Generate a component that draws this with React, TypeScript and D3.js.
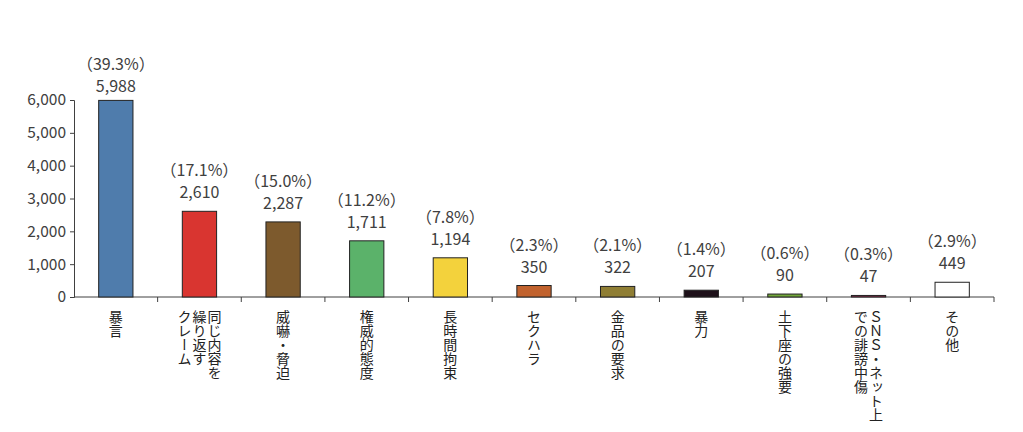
import { useEffect, useRef } from 'react';
import * as d3 from 'd3';

// each label is a list of vertical columns, first column drawn rightmost
const categories: string[][] = [
  ['暴言'],
  ['同じ内容を', '繰り返す', 'クレーム'],
  ['威嚇・脅迫'],
  ['権威的態度'],
  ['長時間拘束'],
  ['セクハラ'],
  ['金品の要求'],
  ['暴力'],
  ['土下座の強要'],
  ['ＳＮＳ・ネット上', 'での誹謗中傷'],
  ['その他'],
];
const counts = [5988, 2610, 2287, 1711, 1194, 350, 322, 207, 90, 47, 449];
const shares = ['39.3', '17.1', '15.0', '11.2', '7.8', '2.3', '2.1', '1.4', '0.6', '0.3', '2.9'];
const barColors = [
  '#4f7cac', '#d93530', '#7d5a2d', '#5bb26a', '#f3d23c', '#c1622e',
  '#8f7e34', '#1d1019', '#72a83a', '#8b2c4c', '#ffffff',
];
const yTicks = [0, 1000, 2000, 3000, 4000, 5000, 6000];

const FONT = '"Noto Sans CJK JP", "Noto Sans", sans-serif';

const App = () => {
  const chartRef = useRef<SVGSVGElement>(null);

  useEffect(() => {
    if (!chartRef.current) return;
    document.body.style.margin = '0';
    d3.select(chartRef.current).selectAll('*').remove();

    const width = 1023;
    const height = 432;
    const margin = { top: 100, right: 29, bottom: 135, left: 74 };
    const innerW = width - margin.left - margin.right;
    const innerH = height - margin.top - margin.bottom;

    const svg = d3.select(chartRef.current)
      .attr('width', width)
      .attr('height', height)
      .append('g')
      .attr('transform', `translate(${margin.left},${margin.top})`);

    const x = d3.scaleBand<number>()
      .domain(d3.range(counts.length))
      .range([0, innerW])
      .paddingInner(0)
      .paddingOuter(0);
    const y = d3.scaleLinear().domain([0, 6000]).range([innerH, 0]);

    const barW = x.bandwidth() * 0.41;

    // y axis
    const yAxis = svg.append('g')
      .call(d3.axisLeft(y).tickValues(yTicks).tickSize(4).tickPadding(4)
        .tickFormat(d => d3.format(',')(d as number)));
    yAxis.select('.domain').attr('stroke', '#404040');
    yAxis.selectAll('line').attr('stroke', '#404040');
    yAxis.selectAll('text')
      .attr('font-family', FONT)
      .attr('font-size', 15.5)
      .attr('fill', '#404040');

    // x axis baseline with ticks between categories
    const xg = svg.append('g').attr('transform', `translate(0,${innerH})`);
    xg.append('line')
      .attr('x1', 0).attr('x2', innerW)
      .attr('stroke', '#404040');
    xg.selectAll('.tk')
      .data(d3.range(1, counts.length + 1))
      .enter()
      .append('line')
      .attr('x1', d => d * x.step())
      .attr('x2', d => d * x.step())
      .attr('y1', 0)
      .attr('y2', 5)
      .attr('stroke', '#404040');

    // bars
    svg.selectAll('.bar')
      .data(counts)
      .enter()
      .append('rect')
      .attr('x', (_, i) => (x(i) || 0) + (x.bandwidth() - barW) / 2)
      .attr('y', d => y(d))
      .attr('width', barW)
      .attr('height', d => innerH - y(d))
      .attr('fill', (_, i) => barColors[i])
      .attr('stroke', '#222')
      .attr('stroke-width', 1);

    // value + share labels (kept inside the chart area like Excel does)
    const labelY = (v: number) => Math.max(y(v) - 13, -8);
    const labels = svg.selectAll('.lbl')
      .data(counts)
      .enter()
      .append('g')
      .attr('transform', (d, i) => `translate(${(x(i) || 0) + x.bandwidth() / 2},${labelY(d)})`)
      .attr('font-family', FONT)
      .attr('font-size', 16)
      .attr('fill', '#404040')
      .attr('text-anchor', 'middle');
    labels.append('text').text(d => d3.format(',')(d));
    labels.append('text')
      .attr('y', -22)
      .text((_, i) => `（${shares[i]}%）`);

    // vertical category labels
    categories.forEach((cols, i) => {
      const cx = (x(i) || 0) + x.bandwidth() / 2;
      cols.forEach((col, j) => {
        svg.append('text')
          .attr('x', cx + ((cols.length - 1) / 2) * 15 - j * 15)
          .attr('y', innerH + 13)
          .style('writing-mode', 'vertical-rl')
          .attr('font-family', FONT)
          .attr('font-size', 14)
          .attr('fill', '#222')
          .text(col);
      });
    });
  }, []);

  return (
    <div>
      <svg ref={chartRef} style={{ display: 'block', background: '#fff' }} />
    </div>
  );
};

export default App;
